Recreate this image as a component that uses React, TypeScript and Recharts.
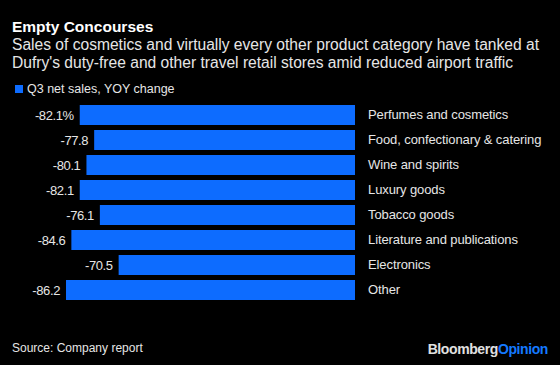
import React from 'react'
import { BarChart, Bar, XAxis, YAxis, LabelList } from 'recharts'

const categories = [
  'Perfumes and cosmetics',
  'Food, confectionary & catering',
  'Wine and spirits',
  'Luxury goods',
  'Tobacco goods',
  'Literature and publications',
  'Electronics',
  'Other',
]
const yoyChange = [-82.1, -77.8, -80.1, -82.1, -76.1, -84.6, -70.5, -86.2]

const data = categories.map((name, i) => ({ name, value: yoyChange[i] }))

const FONT = '"Liberation Sans", Arial, Helvetica, sans-serif'
const BLUE = '#0D6CFF'
const TEXT = '#E6E6E6'

const ValueLabel = (props: any) => {
  const { x, y, width, height, value, index } = props
  const left = Math.min(Number(x), Number(x) + Number(width))
  const txt = index === 0 ? `${value.toFixed(1)}%` : value.toFixed(1)
  return (
    <text x={left - 6} y={Number(y) + Number(height) / 2} dy={4.5} textAnchor="end" fill={TEXT} fontSize={13} fontFamily={FONT} letterSpacing={-0.4}>
      {txt}
    </text>
  )
}

const CategoryTick = (props: any) => {
  const { y, payload } = props
  return (
    <text x={368} y={y} dy={4.5} textAnchor="start" fill={TEXT} fontSize={13} fontFamily={FONT} letterSpacing={-0.1}>
      {payload.value}
    </text>
  )
}

export default function App() {
  return (
    <div style={{ position: 'fixed', top: 0, left: 0, width: 560, height: 365, background: '#000', fontFamily: FONT, color: TEXT, overflow: 'hidden' }}>
      <div style={{ position: 'absolute', left: 12, top: 17.5, fontSize: 15.5, fontWeight: 'bold', color: '#fff', whiteSpace: 'nowrap' }}>Empty Concourses</div>
      <div style={{ position: 'absolute', left: 12, top: 36, fontSize: 15.6, lineHeight: '18px', whiteSpace: 'nowrap' }}>
        Sales of cosmetics and virtually every other product category have tanked at<br />
        Dufry's duty-free and other travel retail stores amid reduced airport traffic
      </div>
      <div style={{ position: 'absolute', left: 15, top: 82, fontSize: 12.5, display: 'flex', alignItems: 'center', whiteSpace: 'nowrap' }}>
        <span style={{ display: 'inline-block', width: 7.5, height: 7.5, background: BLUE, marginRight: 4.5 }} />
        Q3 net sales, YOY change
      </div>

      <div style={{ position: 'absolute', left: 0, top: 0 }}>
        <BarChart width={560} height={365} data={data} layout="vertical" margin={{ top: 102, right: 0, bottom: 63, left: 66 }}>
          <XAxis type="number" domain={[-86.2, 0]} hide />
          <YAxis type="category" dataKey="name" orientation="right" width={205} axisLine={false} tickLine={false} tick={<CategoryTick />} interval={0} />
          <Bar dataKey="value" fill={BLUE} barSize={20} isAnimationActive={false}>
            <LabelList dataKey="value" content={<ValueLabel />} />
          </Bar>
        </BarChart>
      </div>

      <div style={{ position: 'absolute', left: 12, top: 341, fontSize: 12, whiteSpace: 'nowrap' }}>Source: Company report</div>
      <div style={{ position: 'absolute', right: 12, top: 341, fontSize: 14, fontWeight: 'bold', letterSpacing: -0.4, whiteSpace: 'nowrap' }}>
        <span style={{ color: '#E0E0E0' }}>Bloomberg</span>
        <span style={{ color: '#1479FF' }}>Opinion</span>
      </div>
    </div>
  )
}
